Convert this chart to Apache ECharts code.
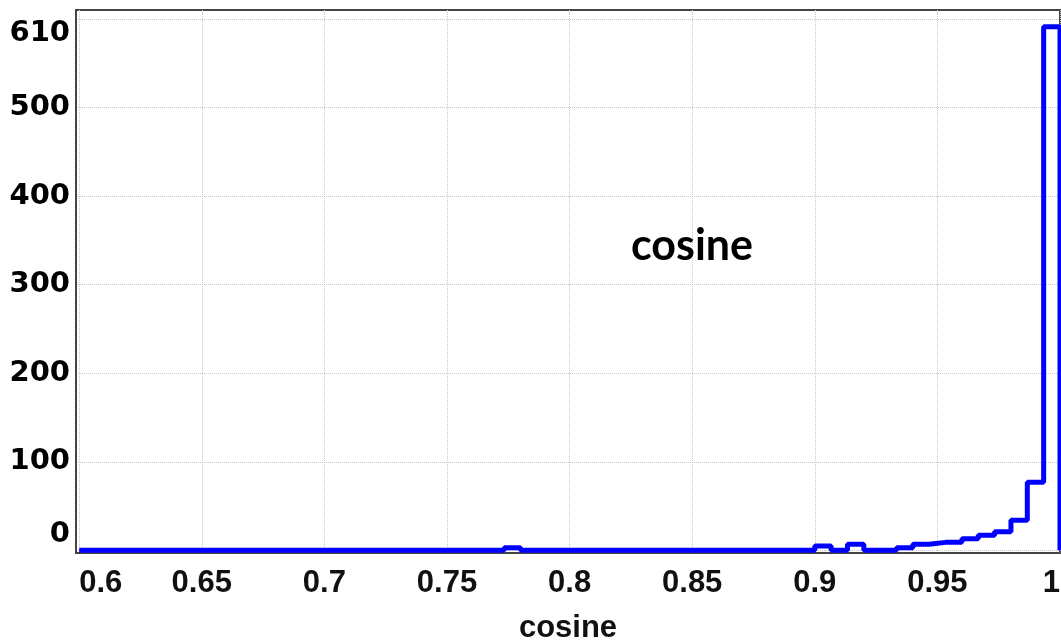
<!DOCTYPE html>
<html>
<head>
<meta charset="utf-8">
<script src="https://cdn.jsdelivr.net/npm/echarts@6/dist/echarts.min.js"></script>
<style>
html,body{margin:0;padding:0;background:#fff;}
#chart{width:1061px;height:643px;}
</style>
</head>
<body>
<div id="chart"></div>
<script>
// ---- data ----
const binStart = 0.6;          // left edge of first bin
const binWidth = 1 / 150;      // bin width
const counts = [
  0,0,0,0,0,0,0,0,0,0,
  0,0,0,0,0,0,0,0,0,0,
  0,0,0,0,0,0,3,0,0,0,
  0,0,0,0,0,0,0,0,0,0,
  0,0,0,0,0,5,0,7,0,0,
  3,7,9,9,13,17,21,34,77,591
];
const xTickValues = [0.6,0.65,0.7,0.75,0.8,0.85,0.9,0.95,1];
const xTickLabels = ['0.6','0.65','0.7','0.75','0.8','0.85','0.9','0.95','1'];
const yGridValues = [0,100,200,300,400,500,600];
const yLabelValues = [0,100,200,300,400,500,610];
const yTickLabels = ['0','100','200','300','400','500','610'];
const titleText = 'cosine';
const xName = 'cosine';

// ---- build step line points ----
const points = counts.map((c, i) => [binStart + i * binWidth, c]);
points.push([1.0, 0]);

const yLabelFont = {fontFamily: 'DejaVu Sans', fontWeight: 'bold', fontSize: 29, color: '#000'};

const chart = echarts.init(document.getElementById('chart'), null, {renderer: 'canvas'});
chart.setOption({
  animation: false,
  grid: {left: 76, right: 1, top: 10, bottom: 90, containLabel: false, outerBoundsMode: 'none',
         show: true, borderColor: '#444', borderWidth: 2, backgroundColor: 'transparent'},
  xAxis: {
    type: 'value', min: 0.5987, max: 1.0,
    name: xName, nameLocation: 'middle', nameGap: 60,
    nameTextStyle: {fontFamily: 'Liberation Sans', fontWeight: 'bold', fontSize: 31, color: '#111'},
    axisLine: {show: true, onZero: false, lineStyle: {color: '#444', width: 2}},
    axisTick: {show: false, customValues: xTickValues},
    splitLine: {show: true, lineStyle: {color: '#c8c8c8', type: 'dotted', width: 1}},
    axisLabel: {
      customValues: xTickValues,
      formatter: v => { const i = xTickValues.findIndex(t => Math.abs(t - v) < 1e-9); return i >= 0 ? xTickLabels[i] : ''; },
      fontFamily: 'Liberation Sans', fontWeight: 'bold', fontSize: 31, color: '#111', margin: 15,
      alignMinLabel: 'left', alignMaxLabel: 'right'
    }
  },
  yAxis: {
    type: 'value', min: -3, max: 610,
    axisLine: {show: true, lineStyle: {color: '#444', width: 2}},
    axisTick: {show: false, customValues: yGridValues},
    splitLine: {show: true, lineStyle: {color: '#c8c8c8', type: 'dotted', width: 1}},
    axisLabel: Object.assign({
      customValues: yLabelValues,
      formatter: v => {
        const i = yLabelValues.findIndex(t => Math.abs(t - v) < 1e-9);
        if (i < 0) return '';
        if (i === 0) return '{lo|' + yTickLabels[i] + '}';
        if (i === yLabelValues.length - 1) return '{hi|' + yTickLabels[i] + '}';
        return yTickLabels[i];
      },
      margin: 6,
      verticalAlignMinLabel: 'bottom', verticalAlignMaxLabel: 'top',
      rich: {
        lo: Object.assign({lineHeight: 32}, yLabelFont),
        hi: Object.assign({lineHeight: 46}, yLabelFont)
      }
    }, yLabelFont)
  },
  graphic: [{
    type: 'text', x: 692, y: 246, z: 10,
    style: {text: titleText, align: 'center', verticalAlign: 'middle', font: 'bold 43px Lato', fill: '#000'}
  }],
  series: [{
    type: 'line', step: 'end', data: points, symbol: 'none',
    lineStyle: {color: '#0000ff', width: 5}, itemStyle: {color: '#0000ff'}
  }]
});
</script>
</body>
</html>
